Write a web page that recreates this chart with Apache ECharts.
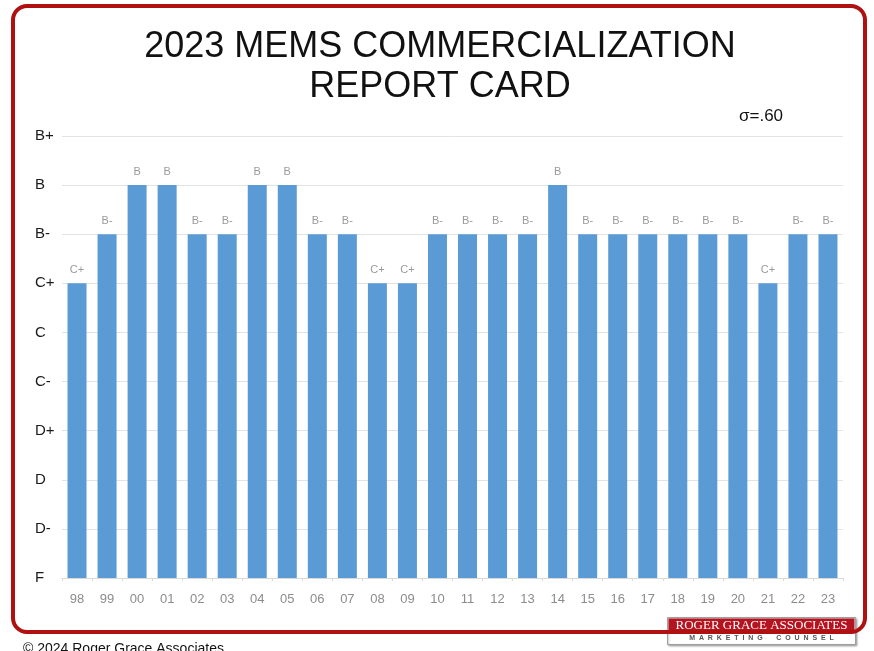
<!DOCTYPE html>
<html>
<head>
<meta charset="utf-8">
<script src="https://cdn.jsdelivr.net/npm/echarts@6/dist/echarts.min.js"></script>
<style>
  html, body { margin: 0; padding: 0; background: #ffffff; }
  #chart { width: 874px; height: 651px; }
</style>
</head>
<body>
<div id="chart"></div>
<script>
// Report-card years and the grade each one received
const years = ['98','99','00','01','02','03','04','05','06','07','08','09','10','11','12','13','14','15','16','17','18','19','20','21','22','23'];
const grades = ['C+','B-','B','B','B-','B-','B','B','B-','B-','C+','C+','B-','B-','B-','B-','B','B-','B-','B-','B-','B-','B-','C+','B-','B-'];
// Grade scale, lowest to highest (tick labels on the value axis)
const gradeScale = ['F','D-','D','D+','C-','C','C+','B-','B','B+'];

const values = grades.map(g => gradeScale.indexOf(g));

const chart = echarts.init(document.getElementById('chart'), null, { renderer: 'canvas' });

chart.setOption({
  backgroundColor: '#ffffff',
  animation: false,
  title: {
    text: '2023 MEMS COMMERCIALIZATION\nREPORT CARD',
    left: 435,
    textAlign: 'center',
    top: 22,
    textStyle: {
      fontFamily: 'Liberation Sans, Arial, sans-serif',
      fontSize: 36,
      fontWeight: 'normal',
      color: '#111111',
      lineHeight: 40
    }
  },
  grid: { left: 62, right: 31, top: 136, bottom: 73, containLabel: false },
  xAxis: {
    type: 'category',
    data: years,
    axisLine: { show: true, lineStyle: { color: '#d9d9d9', width: 1 } },
    axisTick: { show: true, length: 3, lineStyle: { color: '#d9d9d9' } },
    axisLabel: {
      color: '#8c8c8c',
      fontSize: 13,
      fontFamily: 'Liberation Sans, Arial, sans-serif',
      margin: 15
    }
  },
  yAxis: {
    type: 'value',
    min: 0,
    max: 9,
    interval: 1,
    axisLine: { show: false },
    axisTick: { show: false },
    splitLine: { lineStyle: { color: '#e3e3e3', width: 1 } },
    axisLabel: {
      formatter: v => gradeScale[v] || '',
      align: 'left',
      margin: 27,
      color: '#1a1a1a',
      fontSize: 15,
      fontFamily: 'Liberation Sans, Arial, sans-serif'
    }
  },
  series: [{
    type: 'bar',
    data: values,
    barWidth: 19,
    itemStyle: { color: '#5b9bd5' },
    label: {
      show: true,
      position: 'top',
      distance: 8,
      formatter: p => gradeScale[p.value],
      color: '#9a9a9a',
      fontSize: 11,
      fontFamily: 'Liberation Sans, Arial, sans-serif'
    }
  }],
  graphic: [
    // rounded red frame around the chart
    {
      type: 'rect',
      shape: { x: 13, y: 6, width: 852, height: 626, r: 14 },
      style: { fill: 'none', stroke: '#b01010', lineWidth: 4 },
      z: 10
    },
    {
      type: 'text',
      left: 739,
      top: 108,
      style: {
        text: 'σ=.60',
        fill: '#111111',
        font: '17px "Liberation Sans", Arial, sans-serif'
      }
    },
    {
      type: 'text',
      left: 23,
      top: 642,
      style: {
        text: '© 2024 Roger Grace Associates',
        fill: '#111111',
        font: '14px "Liberation Sans", Arial, sans-serif'
      }
    },
    // company logo block
    {
      type: 'group',
      left: 667,
      top: 617,
      z: 20,
      children: [
        {
          type: 'rect',
          shape: { x: 0, y: 0, width: 188, height: 27 },
          style: { fill: '#ffffff', stroke: '#a0a0a0', lineWidth: 1, shadowBlur: 2, shadowColor: 'rgba(0,0,0,0.3)', shadowOffsetX: 1, shadowOffsetY: 1 }
        },
        {
          type: 'rect',
          shape: { x: 1, y: 1, width: 186, height: 13 },
          style: { fill: '#b3141f' }
        },
        {
          type: 'text',
          style: {
            x: 94, y: 8,
            text: 'ROGER GRACE ASSOCIATES',
            align: 'center',
            verticalAlign: 'middle',
            fill: '#ffffff',
            font: '13px "Liberation Serif", "Times New Roman", serif'
          }
        },
        {
          type: 'text',
          style: {
            x: 94, y: 21,
            text: 'M  A  R  K  E  T  I  N  G       C  O  U  N  S  E  L',
            align: 'center',
            verticalAlign: 'middle',
            fill: '#555555',
            font: 'bold 7px "Liberation Sans", Arial, sans-serif'
          }
        }
      ]
    }
  ]
});
</script>
</body>
</html>
